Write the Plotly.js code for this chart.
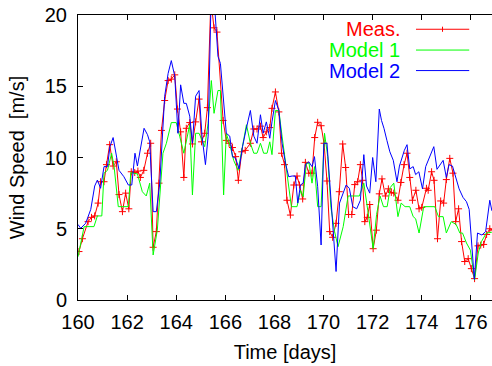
<!DOCTYPE html>
<html>
<head>
<meta charset="utf-8">
<script src="https://cdn.plot.ly/plotly-3.0.1.min.js"></script>
<style>html,body{margin:0;padding:0;background:#fff;}#chart{width:492px;height:366px;}</style>
</head>
<body>
<div id="chart"></div>
<script>
// ---- data ----
var seriesNames = ["Meas.", "Model 1", "Model 2"];

var measTime = [160.04,160.18,160.41,160.55,160.68,160.82,160.92,161.06,161.16,161.29,
161.43,161.56,161.67,161.81,161.94,162.07,162.17,162.31,162.44,162.54,
162.68,162.83,162.96,163.06,163.19,163.30,163.40,163.53,163.67,163.80,
163.94,164.05,164.18,164.31,164.41,164.55,164.66,164.79,164.93,165.03,
165.16,165.27,165.41,165.54,165.66,165.91,166.04,166.15,166.29,166.42,
166.53,166.67,166.81,167.02,167.16,167.29,167.43,167.54,167.67,167.81,
167.90,168.04,168.18,168.29,168.41,168.51,168.65,168.79,168.92,169.02,
169.15,169.26,169.40,169.53,169.64,169.76,169.90,170.02,170.14,170.25,
170.37,170.51,170.64,170.78,170.90,171.02,171.15,171.27,171.39,171.50,
171.59,171.68,171.78,171.88,172.02,172.15,172.27,172.38,172.52,172.64,
172.76,172.86,173.03,173.15,173.28,173.40,173.51,173.62,173.76,173.89,
174.00,174.19,174.26,174.40,174.50,174.64,174.77,174.89,175.00,175.14,
175.27,175.38,175.50,175.62,175.75,175.89,176.02,176.15,176.29,176.40,
176.52,176.64,176.77,176.90];
var measSpeed = [3.4,4.3,5.5,5.8,5.9,6.8,8.3,8.3,9.5,10.9,
9.4,9.7,7.4,6.2,7.5,6.4,9.0,8.95,9.05,8.6,
9.1,10.3,11.0,3.7,4.8,8.2,11.9,14.0,15.4,15.5,
15.8,13.4,11.8,8.6,12.05,12.45,10.95,12.5,14.1,11.1,
11.7,13.5,21.0,19.1,18.8,12.6,11.2,11.0,10.7,10.06,
8.4,10.4,10.5,11.0,12.0,12.0,12.2,11.4,11.8,12.1,
13.45,14.6,13.2,10.3,9.5,7.0,5.96,8.07,8.7,8.07,
7.09,9.66,8.9,8.9,11.4,12.47,12.23,11.0,8.35,4.8,
4.4,5.38,7.6,10.95,9.3,6.0,6.0,8.1,8.3,9.5,
8.4,5.5,5.8,6.7,3.6,4.9,7.45,8.5,7.3,7.8,
7.55,7.5,7.0,8.25,9.5,10.3,8.6,7.0,7.7,6.4,
6.5,7.84,7.7,9.0,8.4,4.3,6.95,6.8,8.45,9.94,
8.9,5.5,6.4,4.1,2.7,2.9,2.2,1.5,3.8,3.85,
3.9,4.6,5.0,4.9];

var model1Time = [160.00,160.25,160.65,160.79,160.97,161.06,161.20,161.37,161.47,161.64,
162.05,162.15,162.42,162.62,162.78,162.92,163.06,163.23,163.46,163.60,
163.80,164.00,164.14,164.31,164.55,164.66,164.79,164.93,165.16,165.30,
165.43,165.54,165.70,165.80,165.93,166.04,166.20,166.34,166.52,166.70,
166.86,167.02,167.16,167.29,167.43,167.56,167.70,167.81,167.90,168.04,
168.18,168.31,168.45,168.58,168.69,168.92,169.06,169.17,169.30,169.41,
169.53,169.63,169.76,169.90,170.04,170.17,170.30,170.45,170.59,170.80,
170.93,171.00,171.46,171.64,171.80,172.02,172.16,172.30,172.44,172.59,
172.72,172.86,173.03,173.16,173.32,173.51,173.65,173.75,173.89,174.08,
174.53,174.68,174.87,175.00,175.20,175.40,175.55,175.66,175.82,175.98,
176.15,176.30,176.43,176.63,176.84,176.95];
var model1Speed = [3.04,5.15,5.15,5.9,5.9,8.9,9.1,10.3,9.36,6.55,
6.55,8.94,8.85,7.6,7.3,8.2,3.16,4.9,10.3,11.0,
12.45,12.45,11.5,10.3,12.3,7.37,11.7,11.7,10.76,12.4,
15.4,13.1,14.7,14.7,7.37,11.7,10.76,9.8,9.1,10.76,
12.3,11.0,10.3,10.3,11.0,10.3,10.3,11.1,10.2,13.3,
13.3,11.5,9.6,7.7,6.55,6.55,7.7,7.25,9.6,9.6,
8.2,9.36,6.55,6.55,11.7,10.06,6.5,4.8,3.74,5.15,
6.55,7.3,7.3,8.2,6.3,3.6,6.0,7.3,6.55,6.55,
7.9,8.2,5.85,6.8,6.55,6.55,5.85,5.7,4.7,6.55,
6.55,5.85,5.85,4.7,5.5,5.3,4.7,4.7,4.0,3.5,
1.4,3.3,4.1,4.7,4.75,4.75];

var model2Time = [160.00,160.11,160.31,160.52,160.68,160.79,160.92,161.06,161.20,161.30,
161.43,161.54,161.67,161.87,162.05,162.19,162.32,162.42,162.55,162.69,
162.83,162.92,163.06,163.19,163.33,163.53,163.67,163.80,163.94,164.07,
164.18,164.31,164.41,164.55,164.66,164.79,164.93,165.05,165.19,165.30,
165.43,165.55,165.70,165.80,166.04,166.18,166.29,166.42,166.56,166.70,
166.85,167.02,167.16,167.29,167.43,167.54,167.67,167.81,167.90,168.04,
168.18,168.31,168.45,168.58,168.72,168.85,168.95,169.06,169.17,169.26,
169.40,169.53,169.63,169.76,169.90,170.01,170.14,170.30,170.40,170.51,
170.65,170.80,170.92,171.05,171.19,171.35,171.50,171.64,171.75,171.88,
172.00,172.13,172.27,172.36,172.46,172.58,172.70,172.84,172.99,173.09,
173.18,173.29,173.40,173.51,173.65,173.75,173.88,174.03,174.16,174.30,
174.49,174.62,174.76,174.87,175.00,175.11,175.25,175.38,175.52,175.68,
175.82,175.93,176.02,176.14,176.27,176.45,176.60,176.77,176.85,176.95];
var model2Speed = [5.3,5.03,5.38,6.36,8.0,8.42,7.84,9.36,9.36,10.76,
11.4,10.3,9.1,8.65,8.07,8.07,10.3,9.4,10.64,12.05,
11.6,11.1,6.2,6.2,8.2,14.3,15.9,16.8,15.7,11.7,
15.1,13.8,13.8,12.9,11.0,14.3,14.7,11.5,9.5,11.5,
22.0,21.0,17.1,16.6,11.7,11.5,10.06,9.94,9.2,10.76,
12.0,13.3,11.5,11.0,13.0,11.7,12.5,11.35,12.5,14.0,
13.3,11.0,9.6,8.65,8.7,8.7,6.8,8.07,8.2,9.5,
9.7,9.36,10.06,7.95,3.86,11.0,11.0,7.0,4.0,2.0,
6.8,7.6,8.07,7.84,6.55,6.4,7.0,10.2,8.0,7.5,
10.0,8.3,13.4,12.6,12.05,11.2,10.4,9.8,8.3,9.4,
9.9,10.5,10.9,9.2,9.36,8.8,9.0,7.8,9.36,10.0,
10.76,9.17,9.5,9.8,8.6,9.5,9.4,8.7,7.8,7.2,
6.9,6.36,4.3,1.45,4.7,4.56,4.8,7.0,6.3,6.0];

var xTicks = [160,162,164,166,168,170,172,174,176];
var yTicks = [0,5,10,15,20];

// ---- styling ----
var FONT = "Liberation Sans, Arial, Helvetica, sans-serif";
var colors = ["#ff0000", "#00ff00", "#0000ff"];

var traces = [
  {x: measTime, y: measSpeed, type: "scatter", mode: "lines+markers", name: seriesNames[0],
   line: {color: colors[0], width: 1},
   marker: {symbol: "cross-thin", size: 5, line: {color: colors[0], width: 1}, color: colors[0]}},
  {x: model1Time, y: model1Speed, type: "scatter", mode: "lines", name: seriesNames[1],
   line: {color: colors[1], width: 1}},
  {x: model2Time, y: model2Speed, type: "scatter", mode: "lines", name: seriesNames[2],
   line: {color: colors[2], width: 1}}
];

// legend drawn gnuplot-style: text right-aligned, sample line to its right
var legY = [0.95, 0.877, 0.805];
var annotations = [], shapes = [];
for (var i = 0; i < 3; i++) {
  annotations.push({xref: "paper", yref: "paper", x: 0.782, y: legY[i], xanchor: "right", yanchor: "middle",
    text: seriesNames[i], showarrow: false, font: {family: FONT, size: 20, color: colors[i]}});
  shapes.push({type: "line", xref: "paper", yref: "paper", x0: 0.8164, x1: 0.945, y0: legY[i], y1: legY[i],
    line: {color: colors[i], width: 1}});
}
shapes.push({type: "line", xref: "paper", yref: "paper", x0: 0.8805, x1: 0.8805, y0: legY[0] - 0.009, y1: legY[0] + 0.009,
  line: {color: colors[0], width: 1}});

var layout = {
  width: 492, height: 366,
  margin: {l: 78, r: 0, t: 15, b: 66},
  paper_bgcolor: "#fff", plot_bgcolor: "#fff",
  showlegend: false,
  font: {family: FONT, size: 20, color: "#000"},
  xaxis: {range: [160, 176.86], tickvals: xTicks, ticks: "inside", ticklen: 5, tickcolor: "#000",
    showline: true, linecolor: "#000", linewidth: 1, mirror: "ticks", showgrid: false, zeroline: false,
    ticklabelstandoff: 4,
    tickfont: {family: FONT, size: 20, color: "#000"},
    title: {text: "Time [days]", font: {family: FONT, size: 20, color: "#000"}, standoff: 12}},
  yaxis: {range: [0, 20], tickvals: yTicks, ticks: "inside", ticklen: 5, tickcolor: "#000",
    showline: true, linecolor: "#000", linewidth: 1, showgrid: false, zeroline: false,
    ticklabelstandoff: 6,
    tickfont: {family: FONT, size: 20, color: "#000"},
    title: {text: "Wind Speed \u00a0[m/s]", font: {family: FONT, size: 20, color: "#000"}, standoff: 14}},
  yaxis2: {range: [0, 20], overlaying: "y", side: "right", tickvals: yTicks, ticks: "inside", ticklen: 4,
    tickcolor: "#000", showticklabels: false, showline: false, showgrid: false, zeroline: false},
  annotations: annotations,
  shapes: shapes
};

Plotly.newPlot("chart", traces, layout, {staticPlot: true, displayModeBar: false});
</script>
</body>
</html>
